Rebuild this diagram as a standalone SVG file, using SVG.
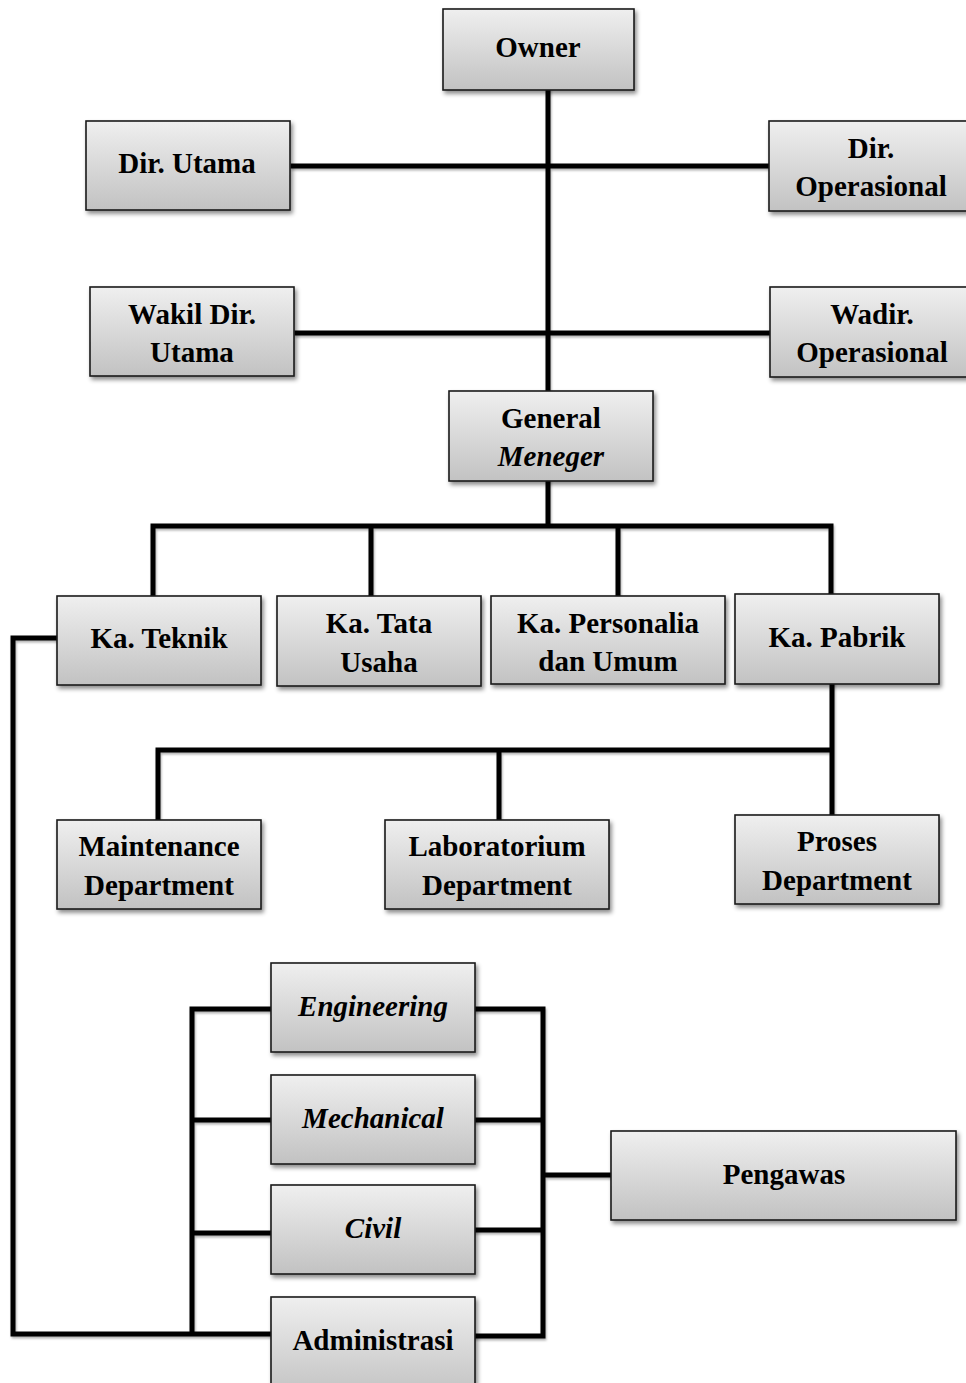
<svg xmlns="http://www.w3.org/2000/svg" width="966" height="1383" viewBox="0 0 966 1383">
<defs>
<linearGradient id="g" x1="0" y1="0" x2="0" y2="1">
<stop offset="0" stop-color="#efefef"/>
<stop offset="1" stop-color="#c2c2c2"/>
</linearGradient>
<filter id="sh" x="-10%" y="-10%" width="130%" height="140%">
<feDropShadow dx="2" dy="3" stdDeviation="2" flood-color="#000" flood-opacity="0.45"/>
</filter>
<filter id="lsh" x="-5%" y="-5%" width="110%" height="110%">
<feDropShadow dx="1" dy="2" stdDeviation="1.2" flood-color="#000" flood-opacity="0.3"/>
</filter>
</defs>
<style>
.box{fill:url(#g);stroke:#1a1a1a;stroke-width:1.6;filter:url(#sh)}
.t{font-family:"Liberation Serif","Times New Roman",serif;font-weight:bold;font-size:29px;fill:#000;text-anchor:middle}
.i{font-style:italic}
.c{fill:none;stroke:#000;stroke-width:5;stroke-linecap:square}
</style>
<rect width="966" height="1383" fill="#fff"/>
<g id="connectors" filter="url(#lsh)">
<path class="c" d="M548 90V391M293 166H769M297 333H770M548 481V526M153 526H831M153 526V596M371 526V596M618 526V596M831 526V594M832 684V815M158 750H832M158 750V820M499 750V820M57 638H13V1334H271M192 1009V1334M192 1009H271M192 1120H271M192 1233H271M475 1009H543V1336H475M475 1120H543M475 1230H543M543 1175H611"/>
</g>
<g id="owner"><rect class="box" x="443" y="9" width="191" height="81"/><text class="t" x="538" y="57">Owner</text></g>
<g id="dir-utama"><rect class="box" x="86" y="121" width="204" height="89"/><text class="t" x="187" y="173">Dir. Utama</text></g>
<g id="dir-operasional"><rect class="box" x="769" y="121" width="200" height="90"/><text class="t" x="871" y="158">Dir.</text><text class="t" x="871" y="196">Operasional</text></g>
<g id="wakil-dir-utama"><rect class="box" x="90" y="287" width="204" height="89"/><text class="t" x="192" y="324">Wakil Dir.</text><text class="t" x="192" y="362">Utama</text></g>
<g id="wadir-operasional"><rect class="box" x="770" y="287" width="200" height="90"/><text class="t" x="872" y="324">Wadir.</text><text class="t" x="872" y="362">Operasional</text></g>
<g id="general-meneger"><rect class="box" x="449" y="391" width="204" height="90"/><text class="t" x="551" y="428">General</text><text class="t i" x="551" y="466">Meneger</text></g>
<g id="ka-teknik"><rect class="box" x="57" y="596" width="204" height="89"/><text class="t" x="159" y="648">Ka. Teknik</text></g>
<g id="ka-tata-usaha"><rect class="box" x="277" y="596" width="204" height="90"/><text class="t" x="379" y="633">Ka. Tata</text><text class="t" x="379" y="672">Usaha</text></g>
<g id="ka-personalia"><rect class="box" x="491" y="596" width="234" height="88"/><text class="t" x="608" y="633">Ka. Personalia</text><text class="t" x="608" y="671">dan Umum</text></g>
<g id="ka-pabrik"><rect class="box" x="735" y="594" width="204" height="90"/><text class="t" x="837" y="647">Ka. Pabrik</text></g>
<g id="maintenance"><rect class="box" x="57" y="820" width="204" height="89"/><text class="t" x="159" y="856">Maintenance</text><text class="t" x="159" y="895">Department</text></g>
<g id="laboratorium"><rect class="box" x="385" y="820" width="224" height="89"/><text class="t" x="497" y="856">Laboratorium</text><text class="t" x="497" y="895">Department</text></g>
<g id="proses"><rect class="box" x="735" y="815" width="204" height="89"/><text class="t" x="837" y="851">Proses</text><text class="t" x="837" y="890">Department</text></g>
<g id="engineering"><rect class="box" x="271" y="963" width="204" height="89"/><text class="t i" x="373" y="1016">Engineering</text></g>
<g id="mechanical"><rect class="box" x="271" y="1075" width="204" height="89"/><text class="t i" x="373" y="1128">Mechanical</text></g>
<g id="civil"><rect class="box" x="271" y="1185" width="204" height="89"/><text class="t i" x="373" y="1238">Civil</text></g>
<g id="administrasi"><rect class="box" x="271" y="1297" width="204" height="100"/><text class="t" x="373" y="1350">Administrasi</text></g>
<g id="pengawas"><rect class="box" x="611" y="1131" width="345" height="89"/><text class="t" x="784" y="1184">Pengawas</text></g>
</svg>
